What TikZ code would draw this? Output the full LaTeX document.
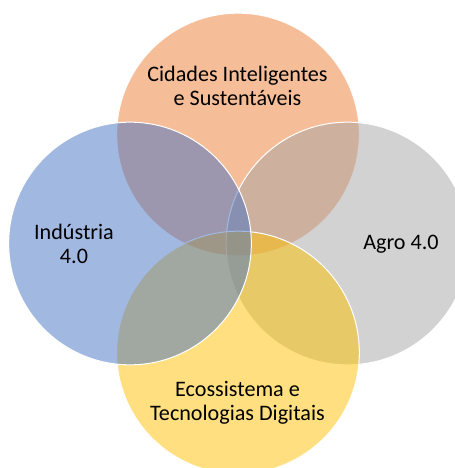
\documentclass[tikz,border=0pt]{standalone}
\usepackage{fontspec}
\setmainfont{Carlito}
\usepackage{tikz}
\definecolor{cidadesC}{HTML}{ED7D31}
\definecolor{agroC}{HTML}{A5A5A5}
\definecolor{ecoC}{HTML}{FFC000}
\definecolor{industriaC}{HTML}{4472C4}

\begin{document}
\begin{tikzpicture}[x=0.75pt,y=-0.75pt,
  venn/.style={circle,draw=white,line width=0.75pt,fill opacity=0.5,
    minimum size=182pt,inner sep=0pt},
  venntext/.style={font=\fontsize{16.6}{18}\selectfont,align=center,text=black}]
                \useasboundingbox (0,0) rectangle (454,468);
                % circles, drawn in the order top, right, bottom, left
                \node[venn,fill=cidadesC] (cidades) at (238,134.5) {};
                \node[venn,fill=agroC] (agro) at (347.5,243.5) {};
                \node[venn,fill=ecoC] (eco) at (238,352.5) {};
                \node[venn,fill=industriaC] (industria) at (130,243.5) {};
                % texts
                \node[venntext] (cidadesT) at (237.5,85.5) {Cidades Inteligentes\\e Sustentáveis};
                \node[venntext] (agroT) at (401,244) {Agro 4.0};
                \node[venntext] (ecoT) at (237.5,402.5) {Ecossistema e\\Tecnologias Digitais};
                \node[venntext] (industriaT) at (74,243.5) {Indústria\\4.0};
\end{tikzpicture}
\end{document}
